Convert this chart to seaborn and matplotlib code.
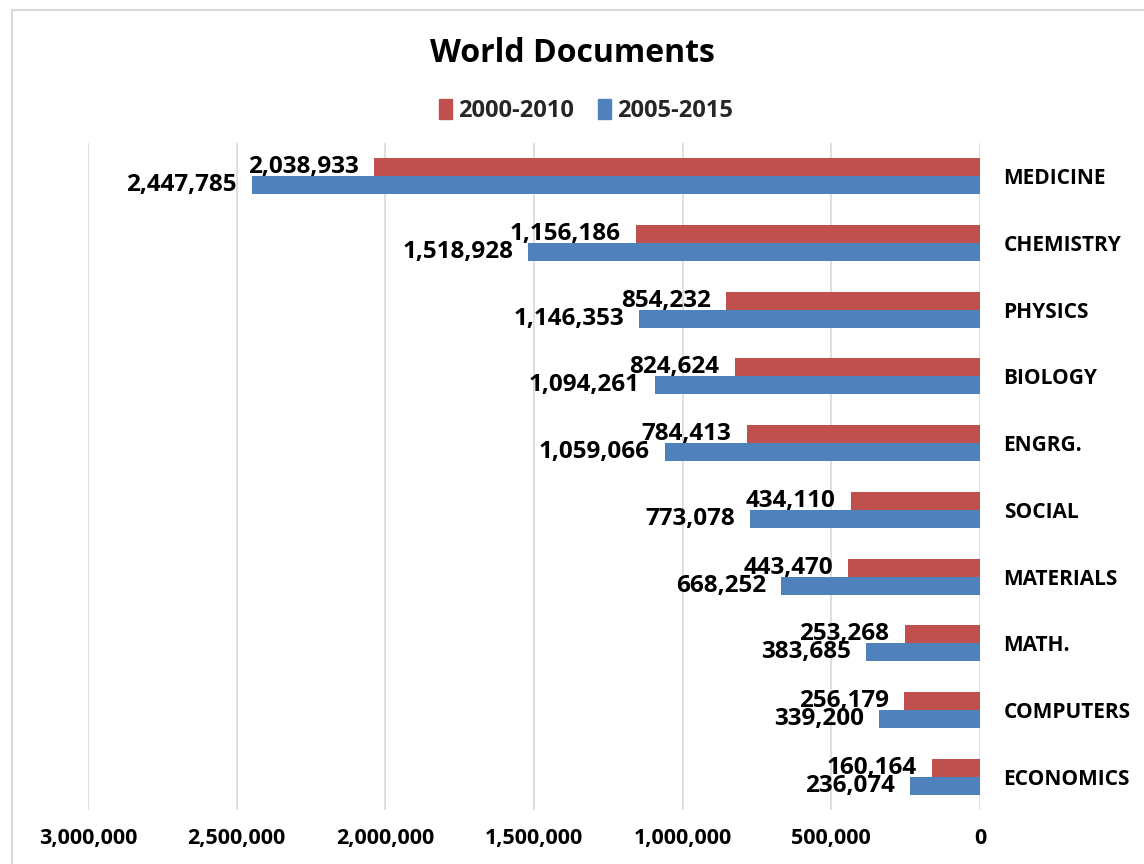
import matplotlib
matplotlib.use("Agg")
import matplotlib.pyplot as plt
from matplotlib.patches import Rectangle, Patch
from matplotlib.ticker import FuncFormatter
import seaborn as sns
import pandas as pd

categories = ["MEDICINE", "CHEMISTRY", "PHYSICS", "BIOLOGY", "ENGRG.",
              "SOCIAL", "MATERIALS", "MATH.", "COMPUTERS", "ECONOMICS"]
docs_2000_2010 = [2038933, 1156186, 854232, 824624, 784413,
                  434110, 443470, 253268, 256179, 160164]
docs_2005_2015 = [2447785, 1518928, 1146353, 1094261, 1059066,
                  773078, 668252, 383685, 339200, 236074]
periods = ["2000-2010", "2005-2015"]
x_ticks = [0, 500000, 1000000, 1500000, 2000000, 2500000, 3000000]

colors = {"2000-2010": "#C0504D", "2005-2015": "#4F81BD"}

df = pd.DataFrame({
    "field": categories * 2,
    "documents": docs_2000_2010 + docs_2005_2015,
    "period": [periods[0]] * len(categories) + [periods[1]] * len(categories),
})

sns.set_theme(style="white")
plt.rcParams["font.family"] = ["Open Sans", "DejaVu Sans"]
plt.rcParams["font.weight"] = "bold"

fig = plt.figure(figsize=(11.44, 8.64), dpi=100)
ax = fig.add_axes([88 / 1144, 1 - 810 / 864, (980 - 88) / 1144, (810 - 143) / 864])

sns.barplot(data=df, y="field", x="documents", hue="period",
            order=categories, hue_order=periods, palette=colors,
            orient="h", width=0.54, saturation=1, linewidth=0,
            ax=ax, legend=False)

# reversed value axis, categories on the right
ax.set_xlim(3000000, 0)
ax.set_xticks(x_ticks)
ax.xaxis.set_major_formatter(FuncFormatter(lambda v, p: f"{int(v):,}"))
ax.yaxis.tick_right()
ax.set_xlabel("")
ax.set_ylabel("")
ax.grid(axis="x", color="#D9D9D9", linewidth=1.2)
ax.set_axisbelow(True)
for s in ax.spines.values():
    s.set_visible(False)
ax.tick_params(axis="x", length=0, pad=13, labelsize=15.5)
ax.tick_params(axis="y", length=0, pad=17, labelsize=15)
for lbl in ax.get_xticklabels() + ax.get_yticklabels():
    lbl.set_fontweight("bold")
    lbl.set_color("black")
for lbl in ax.get_yticklabels():
    lbl.set_horizontalalignment("left")

for container, vals in zip(ax.containers, [docs_2000_2010, docs_2005_2015]):
    ax.bar_label(container, labels=[f"{v:,}" for v in vals], padding=11,
                 fontsize=17.5, fontweight="bold", color="black")

fig.text(0.5, 1 - 53 / 864, "World Documents", ha="center", va="center",
         fontsize=23, fontweight="bold", color="black")

handles = [Patch(color=colors[p], label=p) for p in periods]
fig.legend(handles=handles, loc="center", bbox_to_anchor=(586 / 1144, 1 - 111 / 864),
           ncol=2, frameon=False, handlelength=0.55, handleheight=0.9,
           handletextpad=0.25, columnspacing=1.0,
           prop={"weight": "bold", "size": 17})

fig.patches.append(Rectangle((12 / 1144, -0.1), 1.2, 1 - 10 / 864 + 0.1,
                             transform=fig.transFigure, fill=False,
                             edgecolor="#D9D9D9", linewidth=1.5))

fig.savefig("out.png", dpi=100, facecolor="white")
